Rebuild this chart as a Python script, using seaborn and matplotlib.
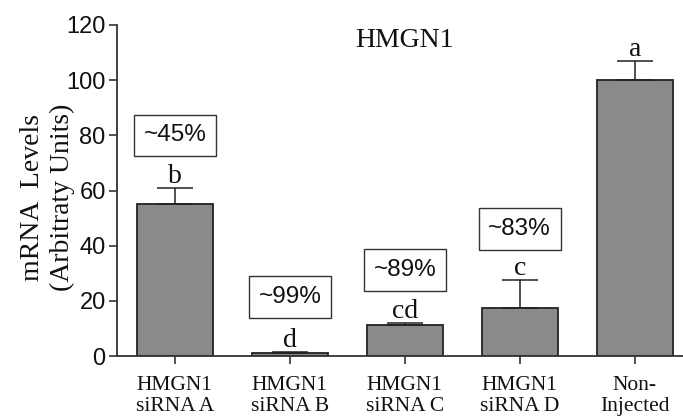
import matplotlib
matplotlib.use("Agg")
import matplotlib.pyplot as plt
import seaborn as sns
import pandas as pd
import numpy as np

# mRNA levels after siRNA knockdown of HMGN1
groups = ["HMGN1\nsiRNA A", "HMGN1\nsiRNA B", "HMGN1\nsiRNA C", "HMGN1\nsiRNA D", "Non-\nInjected"]
levels = [55.0, 1.2, 11.3, 17.5, 100.0]
errors = [6.0, 0.4, 0.8, 10.0, 7.0]
letters = ["b", "d", "cd", "c", "a"]
knockdown = ["~45%", "~99%", "~89%", "~83%", None]
box_y = [80.0, 21.4, 31.2, 46.0, None]

df = pd.DataFrame({"group": groups, "level": levels})

sns.set_style("white")
serif = ["Liberation Serif", "DejaVu Serif"]
sans = ["Liberation Sans", "DejaVu Sans"]

fig = plt.figure(figsize=(6.83, 4.16), dpi=100)
ax = fig.add_axes([0.171, 0.144, 0.829, 0.796])

sns.barplot(data=df, x="group", y="level", color="#8a8a8a", saturation=1,
            edgecolor="#222222", linewidth=1.3, width=0.66, errorbar=None, ax=ax)

x = np.arange(len(groups))
ax.errorbar(x, levels, yerr=[np.zeros(len(errors)), errors], fmt="none",
            ecolor="#222222", elinewidth=1.1, capsize=13, capthick=1.1)

for xi, lv, er, let in zip(x, levels, errors, letters):
    ax.text(xi, lv + er + 1.8, let, ha="center", va="baseline",
            fontsize=20, family=serif, color="#111111")

for xi, lab, by in zip(x, knockdown, box_y):
    if lab is None:
        continue
    ax.text(xi, by, lab, ha="center", va="center", fontsize=17.5, family=sans,
            color="#111111",
            bbox=dict(boxstyle="square,pad=0.4", fc="white", ec="#333333", lw=1.0))

ax.text(2, 114.5, "HMGN1", ha="center", va="center", fontsize=20,
        family=serif, color="#111111")

ax.set_xlim(-0.505, 4.42)
ax.set_ylim(0, 120)
ax.set_yticks(np.arange(0, 121, 20))
ax.set_xlabel("")
ax.set_ylabel("mRNA  Levels\n(Arbitraty Units)", fontsize=20, family=serif,
              color="#111111", linespacing=1.3)
ax.yaxis.set_label_coords(-0.073, 0.48)

for side in ["top", "right"]:
    ax.spines[side].set_visible(False)
for side in ["left", "bottom"]:
    ax.spines[side].set_color("#333333")
    ax.spines[side].set_linewidth(1.3)

ax.tick_params(axis="both", which="major", direction="out", length=6,
               width=1.2, color="#333333", left=True, bottom=True)
ax.tick_params(axis="y", pad=2)
ax.tick_params(axis="x", pad=8)
for t in ax.get_yticklabels():
    t.set_family(sans)
    t.set_fontsize(17)
    t.set_color("#111111")
for t in ax.get_xticklabels():
    t.set_family(serif)
    t.set_fontsize(15.5)
    t.set_color("#111111")
    t.set_linespacing(1.15)

fig.savefig("out.png", dpi=100)
